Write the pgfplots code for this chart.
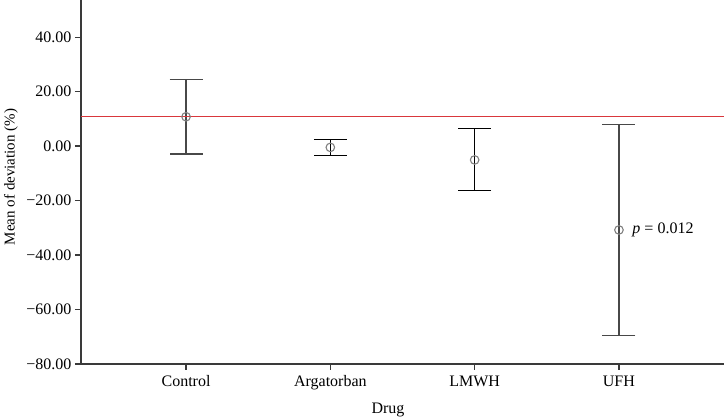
\documentclass[border=0pt]{standalone}
\usepackage{fontspec}
\setmainfont{Liberation Serif}
\usepackage{pgfplots}
\pgfplotsset{compat=1.18}
\definecolor{axgray}{HTML}{3A3A3A}
\definecolor{bargray}{HTML}{484848}
\definecolor{ptgray}{HTML}{808080}
\definecolor{refred}{HTML}{D9373C}
\newcommand{\lblfont}{\fontsize{16}{19}\selectfont}

\begin{document}
\begin{tikzpicture}[x=1pt,y=1pt]
\begin{axis}[
  at={(0,0)}, anchor=south west,
  scale only axis, width=643pt, height=364pt,
  xmin=-0.728, xmax=3.728, ymin=-80, ymax=53.6,
  axis lines=left, axis line style={axgray, line width=1.2pt, -},
  xtick={0,1,2,3}, xticklabels={Control,Argatorban,LMWH,UFH},
  ytick={-80,-60,-40,-20,0,20,40},
  yticklabels={−80.00,−60.00,−40.00,−20.00,0.00,20.00,40.00},
  tick align=outside, major tick length=6pt,
  tick style={axgray, line width=1.1pt},
  tick label style={font=\lblfont, text=black},
  xticklabel style={yshift=-2pt},
  clip=false,
]
% error bars: upper / lower
\addplot[draw=none, mark=none, error bars/.cd, y dir=both, y explicit,
  error bar style={draw=bargray, line width=1.2pt},
  error mark=|,
  error mark options={draw=bargray, line width=1.2pt, mark size=16.5pt}]
  coordinates {(0,10.75) += (0,13.75) -= (0,13.65)
               (3,-30.8) += (0,38.75) -= (0,38.8)};
\addplot[draw=none, mark=none, error bars/.cd, y dir=both, y explicit,
  error bar style={draw=black, line width=1.2pt},
  error mark=|,
  error mark options={draw=black, line width=1.2pt, mark size=16.5pt}]
  coordinates {(1,-0.5) += (0,2.95) -= (0,3.05)
               (2,-5.1) += (0,11.45) -= (0,11.3)};
% reference line (control mean)
\addplot[refred, line width=1.3pt] coordinates {(-0.728,10.75) (3.728,10.75)};
% means
\addplot[only marks, mark=o, mark size=4.3pt, mark options={ptgray, line width=1.1pt}]
  coordinates {(0,10.75) (1,-0.5) (2,-5.1) (3,-30.8)};
\node[anchor=west, font=\lblfont, xshift=10pt] at (axis cs:3,-30.8) {\textit{p} = 0.012};
\end{axis}
\node[rotate=90, font=\fontsize{15}{18}\selectfont] at (-70,187) {Mean of deviation (\%)};
\node[font=\lblfont] at (307,-46) {Drug};
\pgfresetboundingbox
\path (-81,-53) rectangle (643,364);
\end{tikzpicture}
\end{document}
